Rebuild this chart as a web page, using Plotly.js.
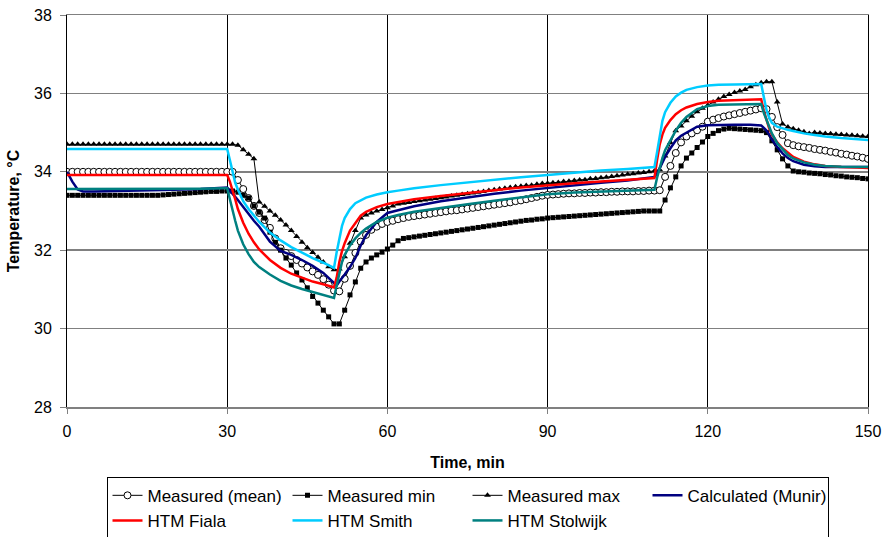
<!DOCTYPE html>
<html>
<head>
<meta charset="utf-8">
<script src="https://cdn.plot.ly/plotly-3.0.1.min.js"></script>
<style>html,body{margin:0;padding:0;background:#fff;}#chart{width:887px;height:537px;}</style>
</head>
<body>
<div id="chart"></div>
<script>
// Measured series: one sample per minute, t = 0..150
const minutes = [0,1,2,3,4,5,6,7,8,9,10,11,12,13,14,15,16,17,18,19,20,21,22,23,24,25,26,27,28,29,30,
31,32,33,34,35,36,37,38,39,40,41,42,43,44,45,46,47,48,49,50,
51,52,53,54,55,56,57,58,59,60,61,62,63,64,65,66,67,68,69,70,
71,72,73,74,75,76,77,78,79,80,81,82,83,84,85,86,87,88,89,90,
91,92,93,94,95,96,97,98,99,100,101,102,103,104,105,106,107,108,109,110,
111,112,113,114,115,116,117,118,119,120,121,122,123,124,125,126,127,128,129,130,
131,132,133,134,135,136,137,138,139,140,141,142,143,144,145,146,147,148,149,150];

const measuredMean = [34.0,34.0,34.0,34.0,34.0,34.0,34.0,34.0,34.0,34.0,34.0,34.0,34.0,34.0,34.0,34.0,34.0,34.0,34.0,34.0,34.0,34.0,34.0,34.0,34.0,34.0,34.0,34.0,34.0,34.0,34.0,
34.0,33.79,33.56,33.33,33.13,32.95,32.77,32.57,32.3,32.05,31.93,31.85,31.75,31.66,31.56,31.46,31.37,31.26,31.12,30.97,
30.95,31.27,31.6,31.93,32.22,32.39,32.52,32.6,32.67,32.72,32.75,32.79,32.82,32.85,32.87,32.89,32.91,32.93,32.95,32.97,
32.99,33.01,33.02,33.04,33.06,33.08,33.1,33.12,33.14,33.16,33.18,33.2,33.22,33.25,33.27,33.3,33.33,33.36,33.39,33.41,
33.42,33.43,33.44,33.45,33.45,33.46,33.46,33.47,33.47,33.48,33.48,33.49,33.49,33.5,33.5,33.5,33.51,33.51,33.52,33.52,
33.53,33.87,34.15,34.48,34.75,34.9,34.98,35.06,35.15,35.28,35.33,35.37,35.41,35.44,35.47,35.5,35.53,35.56,35.59,35.62,
35.6,35.4,35.14,34.94,34.73,34.68,34.65,34.63,34.61,34.58,34.56,34.54,34.51,34.49,34.46,34.44,34.41,34.39,34.36,34.33];

const measuredMin = [33.4,33.4,33.4,33.4,33.4,33.4,33.4,33.4,33.4,33.4,33.4,33.4,33.4,33.4,33.4,33.4,33.4,33.4,33.41,33.42,33.43,33.44,33.45,33.46,33.47,33.48,33.49,33.5,33.5,33.51,33.51,
33.51,33.48,33.4,33.33,33.13,32.97,32.82,32.46,32.2,32.0,31.8,31.62,31.42,31.24,31.04,30.82,30.65,30.47,30.3,30.12,
30.12,30.47,30.86,31.19,31.54,31.7,31.8,31.88,31.95,32.03,32.13,32.24,32.3,32.32,32.34,32.36,32.38,32.4,32.42,32.44,
32.46,32.48,32.5,32.52,32.54,32.56,32.58,32.6,32.62,32.64,32.66,32.68,32.7,32.72,32.74,32.76,32.77,32.79,32.8,32.82,
32.83,32.84,32.85,32.86,32.87,32.88,32.89,32.9,32.91,32.92,32.93,32.94,32.95,32.96,32.97,32.98,32.99,33.0,33.0,33.0,
33.0,33.28,33.59,33.87,34.15,34.35,34.48,34.62,34.76,34.9,34.98,35.05,35.09,35.11,35.1,35.09,35.08,35.07,35.06,35.05,
35.0,34.79,34.56,34.33,34.15,34.02,34.0,33.99,33.97,33.96,33.95,33.93,33.92,33.9,33.89,33.87,33.86,33.85,33.83,33.82];

const measuredMax = [34.7,34.7,34.7,34.7,34.7,34.7,34.7,34.7,34.7,34.7,34.7,34.7,34.7,34.7,34.7,34.7,34.7,34.7,34.7,34.7,34.7,34.7,34.7,34.7,34.7,34.7,34.7,34.7,34.7,34.7,34.7,
34.7,34.68,34.56,34.45,34.33,33.23,33.12,33.0,32.89,32.77,32.64,32.5,32.35,32.2,32.06,31.94,31.82,31.7,31.58,31.5,
31.52,31.83,32.18,32.5,32.82,32.9,32.95,33.0,33.04,33.08,33.13,33.18,33.2,33.22,33.24,33.26,33.28,33.3,33.32,33.34,
33.36,33.38,33.4,33.42,33.44,33.46,33.48,33.5,33.52,33.54,33.56,33.58,33.6,33.62,33.63,33.65,33.66,33.68,33.7,33.71,
33.72,33.73,33.75,33.76,33.78,33.79,33.8,33.82,33.83,33.85,33.86,33.88,33.9,33.92,33.94,33.95,33.97,33.98,34.0,34.02,
34.05,34.4,34.75,35.05,35.17,35.3,35.42,35.53,35.62,35.7,35.78,35.85,35.92,35.97,36.02,36.06,36.1,36.17,36.22,36.27,
36.3,36.3,35.78,35.22,35.14,35.1,35.06,35.02,34.98,35.0,34.99,34.98,34.97,34.96,34.95,34.94,34.93,34.92,34.91,34.9];

// Model series, sampled at the times below
const modelTime = [0,1,2,3,5,10,15,20,25,29,30,30.5,31,31.5,32,33,34,35,36,38,40,42,44,46,48,50,50.5,51,51.5,52,53,54,55,56,58,60,62,65,70,75,80,85,90,95,100,105,109,110,110.5,111,111.5,112,113,114,115,116,118,120,122,125,128,130,130.5,131,131.5,132,133,134,135,136,138,140,142,145,148,150];

const munir = [34.0,33.75,33.55,33.5,33.5,33.51,33.52,33.54,33.56,33.58,33.6,33.52,33.45,33.36,33.28,33.1,32.92,32.75,32.6,32.22,31.98,31.88,31.75,31.6,31.42,31.15,31.1,31.2,31.28,31.38,31.57,31.8,32.12,32.38,32.72,32.95,33.02,33.12,33.25,33.35,33.44,33.52,33.59,33.66,33.72,33.78,33.85,33.87,33.95,34.1,34.25,34.38,34.6,34.8,34.92,35.0,35.15,35.19,35.2,35.2,35.2,35.18,35.12,35.05,34.95,34.83,34.63,34.47,34.35,34.27,34.18,34.14,34.12,34.12,34.12,34.12];

const fiala = [33.92,33.92,33.92,33.92,33.92,33.92,33.92,33.92,33.92,33.92,33.92,33.75,33.55,33.3,33.05,32.7,32.42,32.2,32.02,31.75,31.55,31.4,31.3,31.2,31.13,31.05,31.3,31.7,31.98,32.18,32.5,32.7,32.88,32.98,33.1,33.18,33.23,33.3,33.38,33.46,33.53,33.6,33.66,33.71,33.75,33.79,33.82,33.84,34.3,34.7,34.95,35.12,35.32,35.47,35.57,35.64,35.73,35.78,35.81,35.83,35.84,35.85,35.55,35.3,35.1,34.95,34.75,34.6,34.48,34.38,34.26,34.19,34.15,34.12,34.11,34.1];

const smith = [34.58,34.58,34.58,34.58,34.58,34.58,34.58,34.58,34.58,34.58,34.58,34.3,33.97,33.72,33.55,33.25,33.05,32.88,32.72,32.45,32.25,32.08,31.93,31.8,31.68,31.55,31.95,32.34,32.62,32.82,33.05,33.2,33.28,33.34,33.42,33.48,33.52,33.58,33.66,33.73,33.79,33.86,33.92,33.98,34.03,34.07,34.1,34.12,34.5,34.89,35.3,35.52,35.76,35.92,36.02,36.09,36.16,36.2,36.22,36.23,36.24,36.24,35.9,35.57,35.38,35.25,35.15,35.1,35.07,35.04,34.98,34.94,34.9,34.86,34.83,34.81];

const stolwijk = [33.56,33.56,33.56,33.56,33.56,33.56,33.56,33.57,33.57,33.58,33.58,33.3,33.0,32.75,32.5,32.15,31.9,31.7,31.57,31.38,31.22,31.1,31.01,30.93,30.86,30.78,31.1,31.42,31.7,31.88,32.12,32.3,32.44,32.55,32.72,32.83,32.9,32.98,33.08,33.17,33.26,33.35,33.43,33.47,33.49,33.51,33.53,33.54,33.85,34.12,34.35,34.55,34.81,35.05,35.25,35.4,35.6,35.68,35.71,35.72,35.73,35.73,35.5,35.32,35.12,34.98,34.73,34.57,34.43,34.34,34.24,34.18,34.15,34.13,34.12,34.12];

const seriesNames = ['Measured (mean)','Measured min','Measured max','Calculated (Munir)','HTM Fiala','HTM Smith','HTM Stolwijk'];
const xTicks = [0,30,60,90,120,150];
const yTicks = [28,30,32,34,36,38];

const traces = [
  {x: minutes, y: measuredMean, name: seriesNames[0], mode: 'lines+markers',
   line: {color: '#000', width: 1}, marker: {symbol: 'circle', size: 7, color: '#fff', line: {color: '#000', width: 1}}},
  {x: minutes, y: measuredMin, name: seriesNames[1], mode: 'lines+markers',
   line: {color: '#000', width: 1}, marker: {symbol: 'square', size: 5, color: '#000'}},
  {x: minutes, y: measuredMax, name: seriesNames[2], mode: 'lines+markers',
   line: {color: '#000', width: 1}, marker: {symbol: 'triangle-up', size: 6, color: '#000'}},
  {x: modelTime, y: munir, name: seriesNames[3], mode: 'lines', line: {color: '#000080', width: 2.5}},
  {x: modelTime, y: fiala, name: seriesNames[4], mode: 'lines', line: {color: '#ff0000', width: 2.5}},
  {x: modelTime, y: smith, name: seriesNames[5], mode: 'lines', line: {color: '#00ccff', width: 2.5}},
  {x: modelTime, y: stolwijk, name: seriesNames[6], mode: 'lines', line: {color: '#008080', width: 2.5}}
];

const layout = {
  width: 887, height: 537,
  margin: {l: 67, r: 19, t: 15, b: 130, autoexpand: false},
  paper_bgcolor: '#fff', plot_bgcolor: '#fff',
  font: {family: '"Liberation Sans", Arial, sans-serif', color: '#000', size: 16},
  showlegend: true,
  legend: {
    orientation: 'h', x: 0.5, xanchor: 'center', y: -0.178, yanchor: 'top',
    entrywidth: 135, entrywidthmode: 'pixels', itemwidth: 30,
    bordercolor: '#000', borderwidth: 1, bgcolor: '#fff',
    font: {size: 17, family: '"Liberation Sans", Arial, sans-serif', color: '#000'},
    traceorder: 'normal', tracegroupgap: 0
  },
  xaxis: {
    range: [0, 150], tickvals: xTicks, ticktext: xTicks.map(String),
    showgrid: true, gridcolor: '#000', gridwidth: 1,
    showline: true, linecolor: '#808080', linewidth: 1.5, mirror: true,
    zeroline: false, ticks: 'outside', ticklen: 5, tickcolor: '#808080',
    ticklabelstandoff: 4,
    tickfont: {size: 16},
    title: {text: '<b>Time, min</b>', font: {size: 16}, standoff: 18}
  },
  yaxis: {
    range: [28, 38], tickvals: yTicks, ticktext: yTicks.map(String),
    showgrid: true, gridcolor: '#808080', gridwidth: 1.5,
    showline: true, linecolor: '#000', linewidth: 1, mirror: true,
    zeroline: false, ticks: 'outside', ticklen: 6, tickcolor: '#808080',
    ticklabelstandoff: 5,
    tickfont: {size: 16},
    title: {text: '<b>Temperature, °C</b>', font: {size: 16}, standoff: 10}
  }
};

Plotly.newPlot('chart', traces, layout, {displayModeBar: false, staticPlot: true});
</script>
</body>
</html>
